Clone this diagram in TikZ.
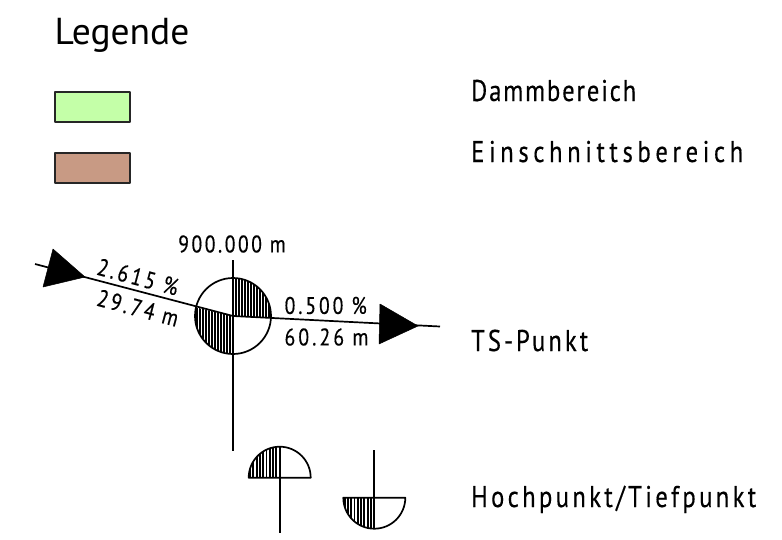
\documentclass[tikz,border=0pt]{standalone}
\usepackage{fontspec}
\setmainfont{PT Sans}
\newfontfamily\cadfont[FakeStretch=0.82,FakeBold=0.35]{PT Sans}
\newlength\fitlen
% set #3 (#2 characters) to a total width of #1 pt by letter spacing
\newcommand\fitw[3]{\settowidth\fitlen{#3}\pgfmathsetmacro\fitls{(#1-\fitlen)/(#2-1)/1em*100}\addfontfeature{LetterSpace=\fitls}#3}
\begin{document}
\begin{tikzpicture}[x=1pt,y=-1pt,line join=round,
  ln/.style={draw=black,line width=1.7pt},
  hatchline/.style={draw=black,line width=1.9pt},
  swatch/.style={draw=black!85,line width=1.8pt,minimum width=75pt,minimum height=30pt,inner sep=0pt},
  title/.style={anchor=base west,inner sep=0pt,font=\fontsize{37.5}{38}\selectfont},
  big/.style={anchor=base west,inner sep=0pt,font=\fontsize{30}{30}\selectfont\cadfont},
  small/.style={inner sep=0pt,font=\fontsize{24}{24}\selectfont\cadfont},
  head/.style={fill=black,draw=black,line width=0.5pt}]
\useasboundingbox (0,0) rectangle (782,539);
\fill[white] (0,0) rectangle (782,539);

\node[title] (legende) at (54.5,44) {Legende};
\node[swatch,fill={rgb,255:red,196;green,255;blue,168}] (damm) at (92.5,107.3) {};
\node[swatch,fill={rgb,255:red,200;green,154;blue,132}] (einschnitt) at (92.5,168) {};
\node[big] (dammt) at (471,101) {\fitw{165}{11}{Dammbereich}};
\node[big] (eint) at (471,162) {\fitw{272}{18}{Einschnittsbereich}};
\node[big] (tst) at (471,351) {\fitw{117}{8}{TS-Punkt}};
\node[big] (hpt) at (471,507) {\fitw{285}{19}{Hochpunkt/Tiefpunkt}};

\coordinate (c) at (233,316);
\coordinate (vtop) at (233,260);
\coordinate (vbot) at (233,451);
\coordinate (lstart) at (35,264);
\coordinate (lA) at (53,249);
\coordinate (lB) at (43,287);
\coordinate (lT) at (85,277);
\coordinate (rend) at (440,326.5);
\coordinate (rA) at (380,304);
\coordinate (rB) at (379,344);
\coordinate (rT) at (418,326);

% hatching of the TS circle
\begin{scope}
  \clip (c) circle (38);
  \begin{scope}
    \clip (233,270) -- (280,270) -- (280,318.2) -- (233,316) -- cycle;
    \foreach \x in {233,236,...,272} \draw[hatchline] (\x,270) -- (\x,325);
  \end{scope}
  \begin{scope}
    \clip (233,316) -- (190,306) -- (190,360) -- (233,360) -- cycle;
    \foreach \x in {233,230,...,192} \draw[hatchline] (\x,300) -- (\x,360);
  \end{scope}
\end{scope}
\draw[ln] (c) circle (38);
\draw[ln] (vtop) -- (vbot);
\draw[ln] (lstart) -- (c);
\draw[ln] (c) -- (rend);
\fill[head] (lA) -- (lT) -- (lB) -- cycle;
\fill[head] (rA) -- (rT) -- (rB) -- cycle;

\node[small] (sta) at (232,244) {\fitw{110}{9}{900.000 m}};
\node[small,rotate=-15] (s1) at (138,277) {\fitw{86}{7}{2.615 \%}};
\node[small,rotate=-15] (l1) at (138,308) {\fitw{86}{7}{29.74 m}};
\node[small] (s2) at (325.7,305.5) {\fitw{85}{7}{0.500 \%}};
\node[small] (l2) at (326.5,337) {\fitw{87}{7}{60.26 m}};

% Hochpunkt
\coordinate (hc) at (279.7,477.7);
\coordinate (hs) at (279.7,533);
\begin{scope}
  \clip (hc) circle (31);
  \clip (248,445) rectangle (279.7,477.7);
  \foreach \x in {279.7,276.4,...,249} \draw[hatchline] (\x,445) -- (\x,478);
\end{scope}
\draw[ln] (248.7,477.7) arc[start angle=180,end angle=360,radius=31] -- cycle;
\draw[ln] (279.7,446.7) -- (hs);

% Tiefpunkt
\coordinate (tc) at (374.3,497.7);
\coordinate (ts) at (374.3,450);
\begin{scope}
  \clip (tc) circle (31);
  \clip (343,497.7) rectangle (374.3,530);
  \foreach \x in {374.3,371,...,344} \draw[hatchline] (\x,497) -- (\x,530);
\end{scope}
\draw[ln] (343.3,497.7) arc[start angle=180,end angle=0,radius=31] -- cycle;
\draw[ln] (ts) -- (374.3,528.7);
\end{tikzpicture}
\end{document}
